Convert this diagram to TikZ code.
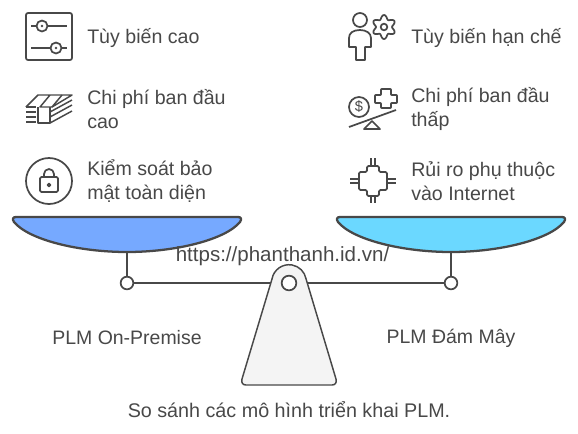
\documentclass[tikz,border=0pt]{standalone}
\usepackage{fontspec}
\setmainfont{Liberation Sans}
\usepackage{xcolor}
\usetikzlibrary{arrows.meta,positioning}
\definecolor{inkgray}{HTML}{484848}
\definecolor{panblue}{HTML}{76A9FF}
\definecolor{pancyan}{HTML}{6BD8FF}
\definecolor{basegray}{HTML}{F4F4F4}

\begin{document}
\begin{tikzpicture}[
x=0.75pt, y=-0.75pt,
iconbox/.style={minimum width=34.5pt, minimum height=34.5pt, inner sep=0pt, outer sep=0pt},
itemtext/.style={align=left, inner sep=0pt, text=inkgray, font=\fontsize{14.7}{18}\selectfont},
plaintext/.style={inner sep=0pt, text=inkgray, font=\fontsize{14.6}{18}\selectfont},
icon/.style={draw=inkgray, line width=1.3pt, line join=round},
thinicon/.style={draw=inkgray, line width=1.1pt, line join=round},
panline/.style={draw=inkgray, line width=1.7pt, line join=round},
joint/.style={circle, draw=inkgray, line width=1.3pt, fill=white, minimum size=9.5pt, inner sep=0pt}
]
\useasboundingbox (0,0) rectangle (578,433);

\node[iconbox] (sliders) at (49,38) {};
\node[iconbox] (money) at (49,109) {};
\node[iconbox] (lock) at (49,181.5) {};
\node[iconbox] (person) at (373,38) {};
\node[iconbox] (balance) at (373,109) {};
\node[iconbox] (chip) at (373,181.5) {};

\node[itemtext, anchor=west, right=11.25pt of sliders] (custhigh) {Tùy biến cao};
\node[itemtext, anchor=west, right=11.25pt of money] (costhigh) {Chi phí ban đầu\\cao};
\node[itemtext, anchor=west, right=11.25pt of lock] (security) {Kiểm soát bảo\\mật toàn diện};
\node[itemtext, anchor=west, right=11.25pt of person] (custlow) {Tùy biến hạn chế};
\node[itemtext, anchor=west, right=11.25pt of balance] (costlow) {Chi phí ban đầu\\thấp};
\node[itemtext, anchor=west, right=11.25pt of chip] (internet) {Rủi ro phụ thuộc\\vào Internet};

% sliders
\draw[icon, rounded corners=1.5pt] (26,13) rectangle (72,60);
\draw[icon] (31,26) -- (67,26);
\draw[icon] (31,48) -- (67,48);
\draw[icon, fill=white] (42,26) circle (5.5);
\draw[icon, fill=white] (56,48) circle (5.5);
\fill[inkgray] (42,26) circle (1.3);
\fill[inkgray] (56,48) circle (1.3);

% money
\draw[thinicon] (26,107) -- (38,95) -- (72,95) -- (52,107) -- (40,107) -- (50,95);
\draw[thinicon] (26,107) -- (36,107);
\draw[thinicon] (52,107) -- (62,95);
\draw[thinicon] (26,112) -- (36,112);
\draw[thinicon] (26,117) -- (36,117);
\draw[thinicon] (26,122) -- (36,122);
\draw[thinicon] (38,107) -- (38,123) -- (50,123) -- (50,107);
\draw[thinicon] (50,112) -- (72,100);
\draw[thinicon] (50,117) -- (72,105);
\draw[thinicon] (50,123) -- (72,111);

% lock
\draw[icon] (49,181) circle (23);
\draw[icon, rounded corners=1pt] (40,177) rectangle (58,192);
\draw[icon] (44,177) -- (44,174) arc[start angle=180, end angle=360, radius=5] -- (54,177);
\draw[thinicon] (49,185) circle (1.5);

% person with gear
\draw[icon] (360,20) circle (7);
\draw[icon] (356,60) -- (365,60) -- (365,47) -- (371,47) -- (371,38)
  .. controls (371,33) and (366,30) .. (360,30) .. controls (353,30) and (349,33) .. (349,38)
  -- (349,47) -- (356,47) -- cycle;
\draw[icon] plot[domain=0:360, samples=73, smooth cycle] ({384+(10-2*cos(6*\x))*cos(\x)},{27+(10-2*cos(6*\x))*sin(\x)});
\draw[icon] (384,27) circle (3.3);

% balance with dollar and plus
\draw[icon] (359,107) circle (10);
\node[inner sep=0pt, text=inkgray, font=\fontsize{11}{11}\selectfont] (dollar) at (359,107) {\$};
\draw[icon, rounded corners=0.5pt] (381,89) -- (391,89) -- (391,95) -- (397,95) -- (397,103) -- (391,103)
  -- (391,108) -- (381,108) -- (381,103) -- (375,103) -- (375,95) -- (381,95) -- cycle;
\draw[icon] (349,127) -- (396,110);
\draw[icon] (372,121) -- (380,129) -- (364,129) -- cycle;

% chip
\draw[icon, rounded corners=1pt] (367,166) -- (379,166) -- (379,172) -- (387,172) -- (387,190) -- (379,190) -- (379,196)
  -- (367,196) -- (367,190) -- (359,190) -- (359,172) -- (367,172) -- cycle;
\foreach \d in {-2,2} {
  \draw[icon] (373+\d,158) -- (373+\d,166);
  \draw[icon] (373+\d,196) -- (373+\d,203);
  \draw[icon] (350,181+\d) -- (359,181+\d);
  \draw[icon] (387,181+\d) -- (396,181+\d);
}

% scale
\coordinate (panleft) at (127,252);
\coordinate (panright) at (451,252);
\node[joint] (jointleft) at (127,283) {};
\node[joint] (jointright) at (451,283) {};
\node[joint, minimum size=11pt, fill=none] (pivot) at (289,283) {};

\draw[panline] (jointleft) -- (pivot);
\draw[panline] (pivot) -- (jointright);
\draw[panline] (panleft) -- (jointleft);
\draw[panline] (panright) -- (jointright);

\foreach \cx/\col in {127/panblue, 451/pancyan} {
  \draw[panline, fill=\col] (\cx-111,217) -- (\cx+111,217)
    .. controls (\cx+114,217) and (\cx+115,219) .. (\cx+113,222)
    .. controls (\cx+98,240) and (\cx+48,252) .. (\cx,252)
    .. controls (\cx-48,252) and (\cx-98,240) .. (\cx-113,222)
    .. controls (\cx-115,219) and (\cx-114,217) .. (\cx-111,217) -- cycle;
}

\draw[icon, line width=1.1pt, fill=basegray] (272,279)
  arc[start angle=190, end angle=350, radius=17.3]
  -- (336,379) .. controls (337,383) and (335,385) .. (332,385)
  -- (246,385) .. controls (243,385) and (241,383) .. (242,379) -- cycle;
\node[joint, minimum size=11pt, fill=white] at (pivot) {};

\node[plaintext, font=\fontsize{15.4}{18}\selectfont] (weblink) at (282.5,256) {https://phanthanh.id.vn/};
\node[plaintext] (onprem) at (127,338) {PLM On-Premise};
\node[plaintext] (cloud) at (451,338) {PLM Đám Mây};
\node[plaintext, font=\fontsize{14.8}{18}\selectfont] (caption) at (289,410) {So sánh các mô hình triển khai PLM.};
\end{tikzpicture}
\end{document}
